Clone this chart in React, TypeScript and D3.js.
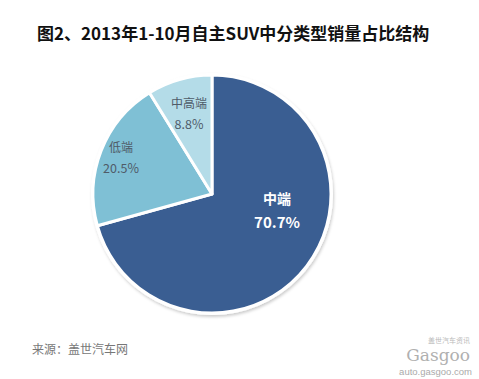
import React from "react";
import * as d3 from "d3";

const categories = ["中端", "低端", "中高端"];
const values = [70.7, 20.5, 8.8];
const colors = ["#3A5E92", "#7FC0D5", "#B4DCE8"];

// label anchor offsets (px) from pie centre, style only
const labelOffsets = [
  { dx: 65, dy: 15, bold: true },
  { dx: -91, dy: -36, bold: false },
  { dx: -23, dy: -80, bold: false },
];

export default function App() {
  const width = 479, height = 379;
  const cx = 212, cy = 194, r = 119;
  const pie = d3.pie<number>().sort(null).value((d) => d)(values);
  const arc = d3.arc<d3.PieArcDatum<number>>().innerRadius(0).outerRadius(r);
  return (
    <svg width={width} height={height} style={{ position: "absolute", left: 0, top: 0, background: "#fff" }}
      fontFamily="'Noto Sans CJK SC', 'Noto Sans', sans-serif">
      <defs>
        <filter id="sh" x="-20%" y="-20%" width="140%" height="140%">
          <feDropShadow dx="1" dy="2" stdDeviation="1.5" floodColor="#000" floodOpacity="0.2" />
        </filter>
      </defs>
      <text x={37} y={40} fontSize={17} fontWeight="bold" fill="#111">图2、2013年1-10月自主SUV中分类型销量占比结构</text>
      <g transform={`translate(${cx},${cy})`}>
        <circle r={r + 2} fill="#fff" filter="url(#sh)" />
        {pie.map((p, i) => (
          <path key={i} d={arc(p) || ""} fill={colors[i]} stroke="#fff" strokeWidth={3} strokeLinejoin="round" />
        ))}
        {pie.map((p, i) => {
          const o = labelOffsets[i];
          const bold = o.bold;
          const fill = bold ? "#fff" : "#4F5B68";
          return (
            <g key={i} transform={`translate(${o.dx},${o.dy})`} textAnchor="middle" fill={fill} fontWeight={bold ? "bold" : "normal"}>
              <text y={bold ? -5 : -6} fontSize={bold ? 14 : 12}>{categories[i]}</text>
              <text y={bold ? 19 : 15} fontSize={bold ? 15 : 12.5}>{(p.data as number).toFixed(1)}%</text>
            </g>
          );
        })}
      </g>
      <text x={32} y={354} fontSize={12} fill="#777">来源：盖世汽车网</text>
      <g textAnchor="end">
        <text x={470} y={343} fontSize={7} fill="#bbb">盖世汽车资讯</text>
        <text x={470} y={361} fontSize={17} fontFamily="'DejaVu Serif', serif" fill="#b0b0b0">Gasgoo</text>
        <text x={472} y={375} fontSize={9.5} fill="#aaa" fontFamily="'Liberation Sans', sans-serif">auto.gasgoo.com</text>
      </g>
    </svg>
  );
}
